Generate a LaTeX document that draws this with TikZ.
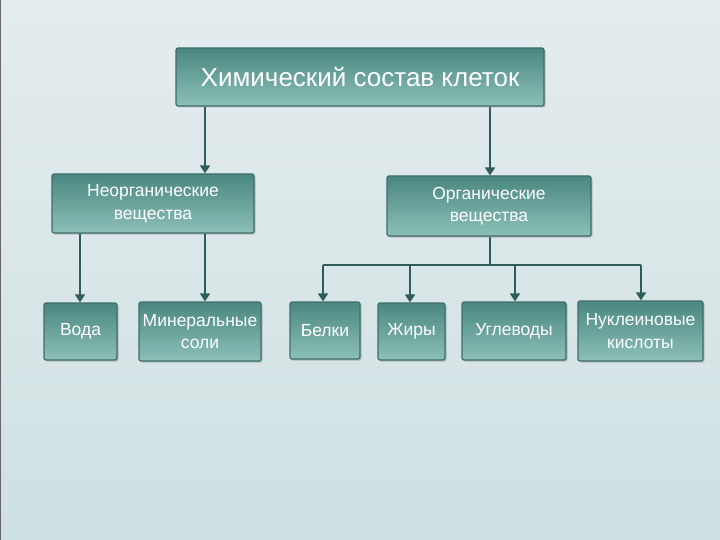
\documentclass[tikz,border=0pt]{standalone}
\usepackage{fontspec}
\setmainfont{Liberation Sans}
\usetikzlibrary{arrows.meta,shadows}
\definecolor{bgA}{HTML}{E4ECEE}
\definecolor{bgB}{HTML}{CFE0E2}
\definecolor{boxtop}{HTML}{4A8780}
\definecolor{boxbot}{HTML}{8CC0B8}
\definecolor{boxline}{HTML}{3E6E69}
\definecolor{arr}{HTML}{2F5D5A}
\begin{document}
\begin{tikzpicture}[x=1pt,y=-1pt,
  box/.style={draw=boxline,line width=1.2pt,rounded corners=2pt,
    top color=boxtop,bottom color=boxbot,text=white,align=center,
    font=\fontsize{17.5}{22.5}\selectfont,inner sep=0pt,
    drop shadow={shadow xshift=1.5pt,shadow yshift=-1.5pt,fill=black!45,opacity=0.5}},
  link/.style={draw=arr,line width=1.6pt},
  arrow/.style={link,-{Triangle[length=8pt,width=10pt]}}]
\shade[top color=bgA,bottom color=bgB] (0,0) rectangle (720,540);
\useasboundingbox (0,0) rectangle (720,540);
\draw[black!60,line width=1pt] (0.5,0) -- (0.5,540);
% boxes
\node[box,minimum width=368pt,minimum height=58pt,font=\fontsize{26}{30}\selectfont] (top) at (360,77) {Химический состав клеток};
\node[box,minimum width=202pt,minimum height=59pt] (neorg) at (153,203.5) {Неорганические\\вещества};
\node[box,minimum width=204pt,minimum height=60pt] (org) at (489,206) {Органические\\вещества};
\node[box,minimum width=73pt,minimum height=57pt] (voda) at (80.5,331.5) {Вода};
\node[box,minimum width=122pt,minimum height=59pt] (min) at (200,331.5) {Минеральные\\соли};
\node[box,minimum width=70pt,minimum height=57pt] (belki) at (325,330.5) {Белки};
\node[box,minimum width=67pt,minimum height=57pt] (zhiry) at (411.5,331.5) {Жиры};
\node[box,minimum width=104pt,minimum height=58pt] (ugl) at (514,331) {Углеводы};
\node[box,minimum width=125pt,minimum height=60pt] (nukl) at (640.5,331) {Нуклеиновые\\кислоты};
% connectors
\draw[arrow] (top.south -| 205,0) -- (neorg.north -| 205,0);
\draw[arrow] (top.south -| 490,0) -- (org.north -| 490,0);
\draw[arrow] (neorg.south -| 80,0) -- (voda.north -| 80,0);
\draw[arrow] (neorg.south -| 205,0) -- (min.north -| 205,0);
\coordinate (hub) at (490,265);
\draw[link] (org.south -| hub) -- (hub);
\draw[link] (323,265) -- (641,265);
\draw[arrow] (323,265) -- (belki.north -| 323,0);
\draw[arrow] (410,265) -- (zhiry.north -| 410,0);
\draw[arrow] (515,265) -- (ugl.north -| 515,0);
\draw[arrow] (641,265) -- (nukl.north -| 641,0);
\end{tikzpicture}
\end{document}
